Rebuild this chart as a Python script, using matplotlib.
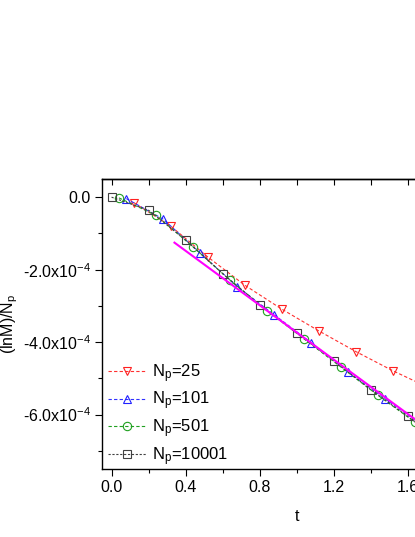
import matplotlib
matplotlib.use("Agg")
import matplotlib.pyplot as plt
from matplotlib.ticker import MultipleLocator, FuncFormatter

plt.rcParams['font.family'] = ['Liberation Sans', 'DejaVu Sans']
plt.rcParams['mathtext.fontset'] = 'custom'
plt.rcParams['mathtext.rm'] = 'Liberation Sans'
plt.rcParams['mathtext.default'] = 'regular'

# data
t_25 = [0.12, 0.32, 0.52, 0.72, 0.92, 1.12, 1.32, 1.52, 1.72]
y_25 = [-0.15e-4, -0.80e-4, -1.65e-4, -2.43e-4, -3.09e-4, -3.69e-4, -4.26e-4, -4.79e-4, -5.27e-4]

t_101 = [0.08, 0.28, 0.48, 0.68, 0.88, 1.08, 1.28, 1.48, 1.68]
y_101 = [-0.04e-4, -0.61e-4, -1.55e-4, -2.47e-4, -3.25e-4, -4.02e-4, -4.83e-4, -5.57e-4, -6.30e-4]

t_501 = [0.04, 0.24, 0.44, 0.64, 0.84, 1.04, 1.24, 1.44, 1.64, 1.84]
y_501 = [-0.02e-4, -0.50e-4, -1.37e-4, -2.29e-4, -3.13e-4, -3.91e-4, -4.69e-4, -5.47e-4, -6.21e-4, -6.95e-4]

t_10001 = [0.0, 0.2, 0.4, 0.6, 0.8, 1.0, 1.2, 1.4, 1.6, 1.8]
y_10001 = [0.0, -0.36e-4, -1.18e-4, -2.11e-4, -2.97e-4, -3.75e-4, -4.51e-4, -5.31e-4, -6.05e-4, -6.80e-4]

fit_t = [0.34, 2.0]
fit_slope = -3.75e-4
fit_icpt = 0.02e-4

fig = plt.figure(figsize=(4.15, 5.37), dpi=100)
ax = fig.add_axes([0.2465, 0.1266, 0.9366, 0.54])

ls = (0, (3, 2))
ax.plot(t_25, y_25, color='#ff3030', ls=ls, lw=0.8, marker='v', ms=6,
        mfc='none', mec='#ff2020', mew=0.8, label='N$_p$=25')
ax.plot(t_101, y_101, color='#3030ff', ls=ls, lw=0.8, marker='^', ms=6,
        mfc='none', mec='#2020ff', mew=0.8, label='N$_p$=101')
ax.plot(t_501, y_501, color='#20a020', ls=ls, lw=0.8, marker='o', ms=6,
        mfc='none', mec='#20a020', mew=0.8, label='N$_p$=501')
ax.plot(t_10001, y_10001, color='#404040', ls=(0, (2, 1.5)), lw=0.8, marker='s', ms=5.5,
        mfc='none', mec='#404040', mew=0.8, label='N$_p$=10001')

fit_y = [fit_icpt + fit_slope * t for t in fit_t]
ax.plot(fit_t, fit_y, color='#ff00ff', lw=1.5)

ax.set_xlim(-0.05, 2.05)
ax.set_ylim(-7.5e-4, 0.5e-4)

ax.xaxis.set_major_locator(MultipleLocator(0.4))
ax.xaxis.set_minor_locator(MultipleLocator(0.2))
ax.yaxis.set_major_locator(MultipleLocator(2e-4))
ax.yaxis.set_minor_locator(MultipleLocator(1e-4))


def yfmt(v, pos):
    m = round(v / 1e-4, 1)
    if abs(m) < 1e-9:
        return '0.0'
    return '%.1fx10$^{-4}$' % m


def xfmt(v, pos):
    return '%.1f' % v


ax.yaxis.set_major_formatter(FuncFormatter(yfmt))
ax.xaxis.set_major_formatter(FuncFormatter(xfmt))

ax.tick_params(axis='both', which='major', labelsize=11.5, length=5, width=0.8,
               direction='out', top=False)
ax.tick_params(axis='both', which='minor', length=3, width=0.8, direction='out', top=False)
ax.tick_params(axis='x', which='both', pad=3)

# top axis mirror ticks, pointing inward
sec = ax.secondary_xaxis('top')
sec.xaxis.set_major_locator(MultipleLocator(0.2))
sec.tick_params(axis='x', direction='in', length=4, width=0.8, labeltop=False)
sec.xaxis.set_major_formatter(FuncFormatter(lambda v, p: ''))
sec.spines['top'].set_linewidth(1.0)

for s in ax.spines.values():
    s.set_linewidth(1.0)

ax.set_xlabel('t', fontsize=11.5, labelpad=10)
ax.set_ylabel('(lnM)/N$_p$', fontsize=11.5, labelpad=2)

leg = ax.legend(loc='lower left', bbox_to_anchor=(0.0, -0.015), frameon=False,
                fontsize=12, handlelength=2.3, handletextpad=0.35,
                labelspacing=0.3, borderaxespad=0.0, borderpad=0.35)

fig.savefig('out.png', dpi=100)
